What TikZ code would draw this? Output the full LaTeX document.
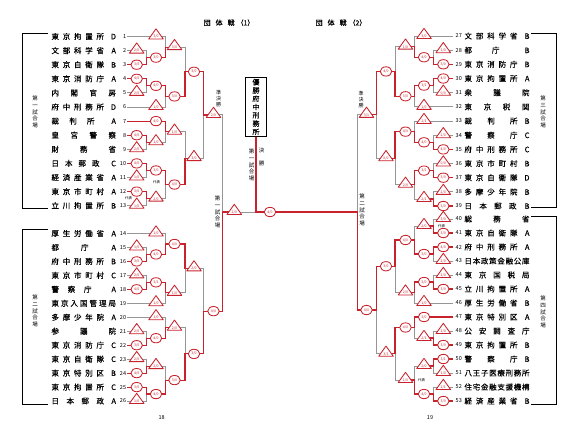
\documentclass[tikz,border=0pt]{standalone}
\usepackage{fontspec}
\setmainfont{Noto Sans CJK JP}
\newfontfamily\jpb[FakeBold=0.3]{Noto Sans CJK JP}
\newfontfamily\jpt[FakeBold=0.6]{Noto Sans CJK JP}
\usetikzlibrary{shapes.geometric}
\definecolor{jred}{RGB}{200,35,45}
\definecolor{jgray}{RGB}{150,150,150}
% spread characters of a word with \hfill between them
\def\sprend{\relax}
\def\spr#1{\sprA#1\sprend}
\def\sprA#1{#1\futurelet\sprnext\sprB}
\def\sprB{\ifx\sprnext\sprend\expandafter\sprC\else\hfill\expandafter\sprA\fi}
\def\sprC\sprend{}
% bracket columns (left-side coordinates; right side is mirrored)
\def\Lz{127.5}\def\Ma{136.7}\def\Ja{146.7}\def\Mb{156}\def\Jb{165.7}
\def\Mc{174.5}\def\Jc{185}\def\Md{194}\def\Jd{203.3}\def\Me{213.5}\def\Je{222.7}
\newcount\mkc
\newcommand\mk[4]{%
  \global\advance\mkc by 1
  \if W#3
    \node[wmk] (mk\the\mkc) at (#1,#2) {#4};
  \else
    \draw[tri] (#1-7.3,#2+2.5) -- (#1,#2-7.7) -- (#1+7.3,#2+2.5) -- cycle;
    \node[mtx] (mk\the\mkc) at (#1,#2+0.3) {#4};
  \fi}
\newcommand\lf[5]{%
  \if W#4 \draw[win] (\Lz,#3) -- (#2,#3); \else \draw[los] (\Lz,#3) -- (#2,#3); \fi
  \mk{#1}{#3}{#4}{#5}}
\newcommand\en[6]{%
  \draw[win] (#1,#4) -- (#2,#4);
  \if W#5 \draw[win] (#2,#4) -- (#3,#4); \else \draw[los] (#2,#4) -- (#3,#4); \fi
  \mk{#2}{#4}{#5}{#6}}
\newcommand\jn[8]{%
  \pgfmathsetmacro\jm{(#2+#3)/2}%
  \if t#4
    \draw[los] (#1,#3) -- (#1,\jm); \draw[win] (#1,#2) -- (#1,\jm);
  \else
    \draw[los] (#1,#2) -- (#1,\jm); \draw[win] (#1,#3) -- (#1,\jm);
  \fi
  \en{#1}{#5}{#6}{\jm}{#7}{#8}}
\newcommand\nmL[5]{%
  \node[nm,anchor=west] (t#2) at (51.3,#1) {\makebox[64.5pt][s]{\makebox[#5pt][s]{\spr{#3}}\hfill #4}};
  \node[num,anchor=east] (n#2) at (126.3,#1) {#2};}
\newcommand\nmR[5]{%
  \node[nm,anchor=west] (t#2) at (464.3,#1) {\makebox[65pt][s]{\makebox[#5pt][s]{\spr{#3}}\hfill #4}};
  \node[num,anchor=west] (n#2) at (455.5,#1) {#2};}
\begin{document}
\begin{tikzpicture}[x=1pt,y=-1pt,
  win/.style={draw=jred,line width=1.15pt,line cap=rect},
  los/.style={draw=jgray,line width=0.9pt,line cap=rect},
  tri/.style={draw=jred,fill=white,line width=0.85pt,line join=round},
  wmk/.style={ellipse,draw=jred,fill=white,line width=0.85pt,minimum width=11.5pt,minimum height=9.3pt,inner sep=0pt,text=jred,font=\fontsize{3.5}{4}\selectfont},
  mtx/.style={inner sep=0pt,text=jred,font=\fontsize{3.5}{4}\selectfont},
  nm/.style={inner sep=0pt,font=\jpb\fontsize{7.5}{8}\selectfont},
  num/.style={inner sep=0pt,font=\fontsize{5.5}{6}\selectfont},
  vlab/.style={align=center,inner sep=0pt,font=\fontsize{5.5}{6.7}\selectfont},
  small/.style={inner sep=0pt,font=\fontsize{3.5}{4}\selectfont},
  bk/.style={draw=black,line width=0.7pt}]
\useasboundingbox (0,0) rectangle (588,439);
\fill[white] (0,0) rectangle (588,439);

% titles
\node[font=\jpt\fontsize{7}{8}\selectfont] (title1) at (229,22.7) {団\hspace{5pt}体\hspace{5pt}戦\hspace{2pt}（1）};
\node[font=\jpt\fontsize{7}{8}\selectfont] (title2) at (341,22.7) {団\hspace{5pt}体\hspace{5pt}戦\hspace{2pt}（2）};
\node[num] (p18) at (161.7,417.7) {18};
\node[num] (p19) at (430,417.5) {19};

% group frames
\draw[bk] (48,33) -- (22,33) -- (22,208) -- (48,208);
\draw[bk] (48,229.3) -- (22,229.3) -- (22,404.3) -- (48,404.3);
\draw[bk] (531,33) -- (556,33) -- (556,207.7) -- (531,207.7);
\draw[bk] (531,216.5) -- (556,216.5) -- (556,404.3) -- (531,404.3);
\node[vlab] (g1) at (35,112) {第\\一\\試\\合\\場};
\node[vlab] (g2) at (35,311) {第\\二\\試\\合\\場};
\node[vlab] (g3) at (543,112) {第\\三\\試\\合\\場};
\node[vlab] (g4) at (543,312) {第\\四\\試\\合\\場};

% names left
\nmL{36.5}{1}{東京拘置所}{D}{52.5}
\nmL{50.6}{2}{文部科学省}{A}{52.5}
\nmL{64.7}{3}{東京自衛隊}{B}{52.5}
\nmL{78.8}{4}{東京消防庁}{A}{52.5}
\nmL{92.9}{5}{内閣官房}{}{64.5}
\nmL{107.0}{6}{府中刑務所}{D}{52.5}
\nmL{121.1}{7}{裁判所}{A}{43}
\nmL{135.2}{8}{皇宮警察}{}{64.5}
\nmL{149.3}{9}{財務省}{}{64.5}
\nmL{163.4}{10}{日本郵政}{C}{48}
\nmL{177.5}{11}{経済産業省}{A}{52.5}
\nmL{191.6}{12}{東京市町村}{A}{52.5}
\nmL{205.7}{13}{立川拘置所}{B}{52.5}
\nmL{233.5}{14}{厚生労働省}{A}{52.5}
\nmL{247.5}{15}{都庁}{A}{37}
\nmL{261.4}{16}{府中刑務所}{B}{52.5}
\nmL{275.4}{17}{東京市町村}{C}{52.5}
\nmL{289.3}{18}{警察庁}{A}{40}
\nmL{303.3}{19}{東京入国管理局}{}{64.5}
\nmL{317.3}{20}{多摩少年院}{A}{52.5}
\nmL{331.2}{21}{参議院}{}{64.5}
\nmL{345.2}{22}{東京消防庁}{C}{52.5}
\nmL{359.1}{23}{東京自衛隊}{C}{52.5}
\nmL{373.1}{24}{東京特別区}{B}{52.5}
\nmL{387.1}{25}{東京拘置所}{C}{52.5}
\nmL{401.0}{26}{日本郵政}{A}{52.5}
% names right
\nmR{36.0}{27}{文部科学省}{B}{53}
\nmR{50.2}{28}{都庁}{B}{35}
\nmR{64.3}{29}{東京消防庁}{B}{53}
\nmR{78.5}{30}{東京拘置所}{A}{53}
\nmR{92.7}{31}{衆議院}{}{65}
\nmR{106.9}{32}{東京税関}{}{65}
\nmR{121.0}{33}{裁判所}{B}{53}
\nmR{135.2}{34}{警察庁}{C}{53}
\nmR{149.4}{35}{府中刑務所}{C}{53}
\nmR{163.5}{36}{東京市町村}{B}{53}
\nmR{177.7}{37}{東京自衛隊}{D}{53}
\nmR{191.9}{38}{多摩少年院}{B}{53}
\nmR{206.0}{39}{日本郵政}{B}{52}
\nmR{219}{40}{総務省}{}{65}
\nmR{233}{41}{東京自衛隊}{A}{53}
\nmR{247}{42}{府中刑務所}{A}{53}
\nmR{261}{43}{日本政策金融公庫}{}{65}
\nmR{275}{44}{東京国税局}{}{65}
\nmR{289}{45}{立川拘置所}{A}{53}
\nmR{303}{46}{厚生労働省}{B}{53}
\nmR{317}{47}{東京特別区}{A}{53}
\nmR{331}{48}{公安調査庁}{}{65}
\nmR{345}{49}{東京拘置所}{B}{53}
\nmR{359}{50}{警察庁}{B}{53}
\nmR{373}{51}{八王子医療刑務所}{}{65}
\nmR{387}{52}{住宅金融支援機構}{}{65}
\nmR{401}{53}{経済産業省}{B}{53}

% ---------- left bracket ----------
\lf{\Mb}{\Jb}{36.5}{L}{3/0}
\lf{\Ma}{\Ja}{50.6}{L}{2/0}
\lf{\Ma}{\Ja}{64.7}{W}{3/0}
\jn{\Ja}{50.6}{64.7}{b}{\Mb}{\Jb}{W}{3/0}
\jn{\Jb}{36.5}{57.65}{b}{\Mc}{\Jc}{L}{3/0}
\lf{\Ma}{\Ja}{78.8}{W}{4/0}
\lf{\Ma}{\Ja}{92.9}{L}{2/0}
\jn{\Ja}{78.8}{92.9}{t}{\Mb}{\Jb}{W}{4/0}
\lf{\Mb}{\Jb}{107.0}{L}{1/0}
\jn{\Jb}{85.85}{107.0}{t}{\Mc}{\Jc}{W}{3/0}
\jn{\Jc}{47.075}{96.425}{b}{\Md}{\Jd}{W}{3/0}
\lf{\Mb}{\Jb}{121.1}{W}{4/0}
\lf{\Ma}{\Ja}{135.2}{W}{4/0}
\lf{\Ma}{\Ja}{149.3}{L}{2/0}
\jn{\Ja}{135.2}{149.3}{t}{\Mb}{\Jb}{L}{1/0}
\jn{\Jb}{121.1}{142.25}{t}{\Mc}{\Jc}{L}{1/0}
\lf{\Ma}{\Ja}{163.4}{W}{4/0}
\lf{\Ma}{\Ja}{177.5}{L}{1/0}
\jn{\Ja}{163.4}{177.5}{t}{\Mb}{\Jb}{W}{3/0}
\lf{\Ma}{\Ja}{191.6}{W}{3/0}
\lf{\Ma}{\Ja}{205.7}{L}{1/0}
\jn{\Ja}{191.6}{205.7}{t}{\Mb}{\Jb}{L}{2/0}
\jn{\Jb}{170.45}{198.65}{t}{\Mc}{\Jc}{W}{4/0}
\jn{\Jc}{131.675}{184.55}{b}{\Md}{\Jd}{L}{3/0}
\jn{\Jd}{71.75}{158.1125}{t}{\Me}{\Je}{L}{2/0}
\lf{\Mb}{\Jb}{233.5}{L}{1/0}
\lf{\Ma}{\Ja}{247.5}{L}{1/0}
\lf{\Ma}{\Ja}{261.4}{W}{3/0}
\jn{\Ja}{247.5}{261.4}{b}{\Mb}{\Jb}{W}{4/0}
\jn{\Jb}{233.5}{254.45}{b}{\Mc}{\Jc}{W}{4/0}
\lf{\Ma}{\Ja}{275.4}{L}{2/0}
\lf{\Ma}{\Ja}{289.3}{W}{4/0}
\jn{\Ja}{275.4}{289.3}{b}{\Mb}{\Jb}{W}{3/1}
\lf{\Mb}{\Jb}{303.3}{L}{1/0}
\jn{\Jb}{282.35}{303.3}{t}{\Mc}{\Jc}{L}{1/0}
\jn{\Jc}{243.975}{292.825}{t}{\Md}{\Jd}{L}{2/0}
\lf{\Mb}{\Jb}{317.3}{L}{1/0}
\lf{\Ma}{\Ja}{331.2}{L}{2/0}
\lf{\Ma}{\Ja}{345.2}{W}{3/0}
\jn{\Ja}{331.2}{345.2}{b}{\Mb}{\Jb}{W}{4/0}
\jn{\Jb}{317.3}{338.2}{b}{\Mc}{\Jc}{L}{2/0}
\lf{\Ma}{\Ja}{359.1}{L}{2/0}
\lf{\Ma}{\Ja}{373.1}{W}{4/0}
\jn{\Ja}{359.1}{373.1}{b}{\Mb}{\Jb}{L}{2/0}
\lf{\Ma}{\Ja}{387.1}{W}{3/0}
\lf{\Ma}{\Ja}{401.0}{L}{1/0}
\jn{\Ja}{387.1}{401.0}{t}{\Mb}{\Jb}{W}{4/0}
\jn{\Jb}{366.1}{394.05}{b}{\Mc}{\Jc}{W}{3/0}
\jn{\Jc}{327.75}{380.075}{b}{\Md}{\Jd}{W}{3/0}
\jn{\Jd}{268.4}{353.9125}{b}{\Me}{\Je}{W}{4/0}
\draw[los] (\Je,114.93) -- (\Je,212);
\draw[win] (\Je,311.156) -- (\Je,212);

% ---------- right bracket (mirrored) ----------
\begin{scope}[xshift=580pt,xscale=-1]
\lf{\Mb}{\Jb}{36.0}{L}{3/0}
\lf{\Ma}{\Ja}{50.2}{L}{1/0}
\lf{\Ma}{\Ja}{64.3}{W}{3/0}
\jn{\Ja}{50.2}{64.3}{b}{\Mb}{\Jb}{W}{4/0}
\jn{\Jb}{36.0}{57.25}{b}{\Mc}{\Jc}{L}{1/0}
\lf{\Ma}{\Ja}{78.5}{W}{4/0}
\lf{\Ma}{\Ja}{92.7}{L}{0/0}
\jn{\Ja}{78.5}{92.7}{t}{\Mb}{\Jb}{W}{3/1}
\lf{\Mb}{\Jb}{106.9}{L}{1/0}
\jn{\Jb}{85.6}{106.9}{t}{\Mc}{\Jc}{W}{3/0}
\jn{\Jc}{46.625}{96.25}{b}{\Md}{\Jd}{W}{4/0}
\lf{\Mb}{\Jb}{121.0}{L}{2/1}
\lf{\Ma}{\Ja}{135.2}{L}{2/0}
\lf{\Ma}{\Ja}{149.4}{W}{4/0}
\jn{\Ja}{135.2}{149.4}{b}{\Mb}{\Jb}{W}{4/0}
\jn{\Jb}{121.0}{142.3}{b}{\Mc}{\Jc}{W}{4/0}
\lf{\Ma}{\Ja}{163.5}{L}{0/0}
\lf{\Ma}{\Ja}{177.7}{W}{3/0}
\jn{\Ja}{163.5}{177.7}{b}{\Mb}{\Jb}{W}{3/1}
\lf{\Ma}{\Ja}{191.9}{L}{2/0}
\lf{\Ma}{\Ja}{206.0}{W}{3/0}
\jn{\Ja}{191.9}{206.0}{b}{\Mb}{\Jb}{L}{2/1}
\jn{\Jb}{170.6}{198.95}{t}{\Mc}{\Jc}{L}{2/0}
\jn{\Jc}{131.65}{184.775}{t}{\Md}{\Jd}{L}{0/0}
\jn{\Jd}{71.4375}{158.2125}{t}{\Me}{\Je}{L}{3/1}
\lf{\Ma}{\Ja}{219}{L}{3/0}
\lf{\Ma}{\Ja}{233}{W}{3/0}
\jn{\Ja}{219}{233}{b}{\Mb}{\Jb}{L}{2/0}
\lf{\Ma}{\Ja}{247}{W}{4/0}
\lf{\Ma}{\Ja}{261}{L}{2/0}
\jn{\Ja}{247}{261}{t}{\Mb}{\Jb}{W}{3/0}
\jn{\Jb}{226}{254}{b}{\Mc}{\Jc}{W}{4/0}
\lf{\Ma}{\Ja}{275}{L}{2/0}
\lf{\Ma}{\Ja}{289}{W}{3/0}
\jn{\Ja}{275}{289}{b}{\Mb}{\Jb}{W}{3/0}
\lf{\Mb}{\Jb}{303}{L}{1/0}
\jn{\Jb}{282}{303}{t}{\Mc}{\Jc}{L}{2/0}
\jn{\Jc}{240}{292.5}{t}{\Md}{\Jd}{W}{3/0}
\lf{\Mb}{\Jb}{317}{W}{3/0}
\lf{\Ma}{\Ja}{331}{L}{2/0}
\lf{\Ma}{\Ja}{345}{W}{3/0}
\jn{\Ja}{331}{345}{b}{\Mb}{\Jb}{L}{2/1}
\jn{\Jb}{317}{338}{t}{\Mc}{\Jc}{W}{4/0}
\lf{\Ma}{\Ja}{359}{W}{3/1}
\lf{\Ma}{\Ja}{373}{L}{1/0}
\jn{\Ja}{359}{373}{t}{\Mb}{\Jb}{L}{2/0}
\lf{\Ma}{\Ja}{387}{L}{2/1}
\lf{\Ma}{\Ja}{401}{W}{3/0}
\jn{\Ja}{387}{401}{b}{\Mb}{\Jb}{W}{4/0}
\jn{\Jb}{366}{394}{b}{\Mc}{\Jc}{L}{1/0}
\jn{\Jc}{327.5}{380}{t}{\Md}{\Jd}{L}{3/1}
\jn{\Jd}{266.25}{353.75}{t}{\Me}{\Je}{W}{4/0}
\draw[los] (\Je,114.825) -- (\Je,212);
\draw[win] (\Je,310) -- (\Je,212);
\end{scope}

% ---------- final ----------
\node[draw=black,line width=0.8pt,minimum width=20.7pt,minimum height=59.4pt,inner sep=0pt,align=center,font=\jpb\fontsize{7}{8.3}\selectfont] (champ) at (256,107) {優\\勝\\府\\中\\刑\\務\\所};
\coordinate (fc) at (256,212);
\coordinate (fl) at (222.7,212);
\coordinate (fr) at (357.3,212);
\draw[win] (fl) -- (234.3,212);
\draw[los] (234.3,212) -- (fc);
\draw[win] (fr) -- (fc);
\draw[win] (fc) -- (champ.south);
\mk{234.3}{212}{L}{2/0}
\mk{270}{212}{W}{4/0}

% labels
\node[vlab,font=\fontsize{5}{6}\selectfont] (sf1) at (218.5,99) {準\\決\\勝};
\node[vlab,font=\fontsize{5}{6}\selectfont] (sf2) at (361,100) {準\\決\\勝};
\node[vlab] (fv1) at (217.5,212) {第\\一\\試\\合\\場};
\node[vlab] (fv2) at (362,210) {第\\二\\試\\合\\場};
\node[vlab] (cv1) at (251.5,165) {第\\一\\試\\合\\場};
\node[vlab,font=\fontsize{5.5}{13}\selectfont] (cv2) at (261.5,156.5) {決\\勝};
\node[small] (d1) at (128.5,197.8) {代表};
\node[small] (d2) at (156.5,182.5) {代表};
\node[small] (d3) at (441.7,225.8) {代表};
\node[small] (d4) at (421.7,380.5) {代表};
\end{tikzpicture}
\end{document}
